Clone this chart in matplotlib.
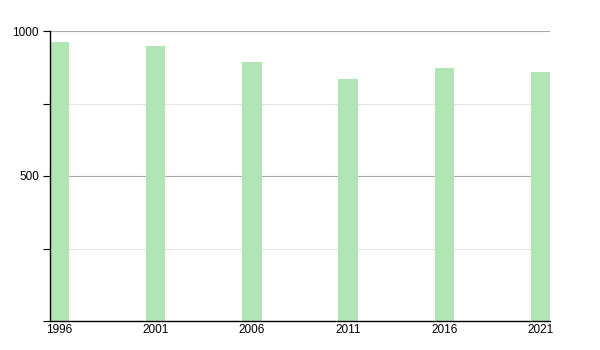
import matplotlib
matplotlib.use("Agg")
import matplotlib.pyplot as plt
from matplotlib.ticker import MultipleLocator

years = [1996, 2001, 2006, 2011, 2016, 2021]
values = [962, 947, 893, 834, 872, 859]

plt.rcParams['font.family'] = ['Liberation Sans', 'DejaVu Sans']

fig = plt.figure(figsize=(6, 3.5), dpi=100)
ax = fig.add_axes([50/600, 1-321/350, 500/600, 290/350])

ax.bar(years, values, width=1.0, color='#b1e5b1', edgecolor='none', zorder=3)

ax.set_xlim(1995.5, 2021.5)
ax.set_ylim(0, 1000)
ax.set_xticks(years)
ax.set_xticklabels([str(y) for y in years])
ax.yaxis.set_major_locator(MultipleLocator(500))
ax.yaxis.set_minor_locator(MultipleLocator(250))
ax.set_yticks([500, 1000])
ax.set_yticklabels(['500', '1000'])

ax.grid(axis='y', which='major', color='#aaaaaa', linewidth=0.8, zorder=1)
ax.grid(axis='y', which='minor', color='#e6e6e6', linewidth=0.8, zorder=1)

for s in ['top', 'right']:
    ax.spines[s].set_visible(False)
for s in ['left', 'bottom']:
    ax.spines[s].set_color('black')
    ax.spines[s].set_linewidth(1.0)
    ax.spines[s].set_zorder(4)

ax.tick_params(axis='x', length=0, pad=2, labelsize=8.5, colors='black')
ax.tick_params(axis='y', which='major', length=5, width=0.8, pad=3, labelsize=8.5)
ax.tick_params(axis='y', which='minor', length=5, width=0.8)

fig.savefig('out.png', dpi=100)
